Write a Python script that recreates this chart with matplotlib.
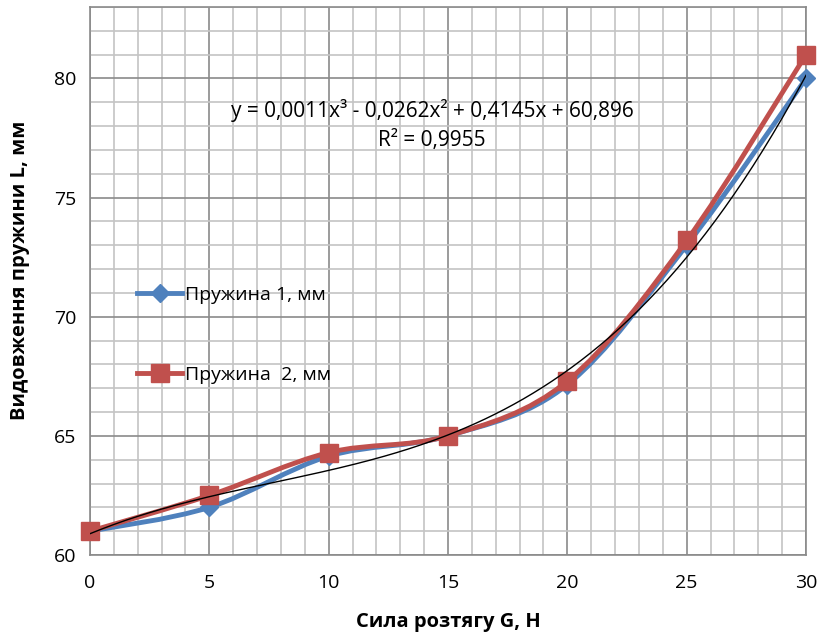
import matplotlib
matplotlib.use("Agg")
import matplotlib.pyplot as plt
import numpy as np
from matplotlib.path import Path
from matplotlib.patches import PathPatch
from matplotlib.lines import Line2D
from matplotlib.ticker import MultipleLocator

plt.rcParams['font.family'] = ['Open Sans', 'DejaVu Sans']

force = [0, 5, 10, 15, 20, 25, 30]
spring1 = [61.0, 62.0, 64.15, 65.0, 67.15, 73.0, 80.0]
spring2 = [61.0, 62.5, 64.3, 65.0, 67.3, 73.2, 81.0]
label1 = "Пружина 1, мм"
label2 = "Пружина  2, мм"
eq_text = "y = 0,0011x³ - 0,0262x² + 0,4145x + 60,896"
r2_text = "R² = 0,9955"
xlabel = "Сила розтягу G, Н"
ylabel = "Видовження пружини L, мм"

blue = "#4F81BD"
red = "#C0504D"

fig = plt.figure(figsize=(8.19, 6.35), dpi=100)
ax = fig.add_axes([90/819, 80/635, 716/819, 548/635])
ax.set_xlim(0, 30)
ax.set_ylim(60, 83)

ax.xaxis.set_major_locator(MultipleLocator(5))
ax.yaxis.set_major_locator(MultipleLocator(5))
ax.xaxis.set_minor_locator(MultipleLocator(1))
ax.yaxis.set_minor_locator(MultipleLocator(1))
ax.grid(which='minor', color='#c4c4c4', linewidth=1.2)
ax.grid(which='major', color='#8a8a8a', linewidth=1.2)
ax.set_axisbelow(True)
for s in ax.spines.values():
    s.set_color('#8a8a8a')
    s.set_linewidth(1.2)
ax.tick_params(which='both', length=0, labelsize=14, colors='black')
ax.tick_params(axis='x', pad=14)
ax.tick_params(axis='y', pad=10)


def smooth_path(xs, ys):
    pts = np.column_stack([xs, ys]).astype(float)
    n = len(pts)
    verts = [pts[0]]
    codes = [Path.MOVETO]
    for i in range(n - 1):
        p0 = pts[i - 1] if i > 0 else pts[i]
        p1 = pts[i]
        p2 = pts[i + 1]
        p3 = pts[i + 2] if i + 2 < n else pts[i + 1]
        c1 = p1 + (p2 - p0) / 6.0
        c2 = p2 - (p3 - p1) / 6.0
        verts += [c1, c2, p2]
        codes += [Path.CURVE4] * 3
    return Path(verts, codes)


for ys, col in [(spring1, blue), (spring2, red)]:
    patch = PathPatch(smooth_path(force, ys), facecolor='none', edgecolor=col,
                      linewidth=3.5, zorder=3, capstyle='round', joinstyle='round')
    ax.add_patch(patch)

ax.plot(force, spring1, linestyle='none', marker='D', markersize=9,
        color=blue, zorder=4, clip_on=False)
ax.plot(force, spring2, linestyle='none', marker='s', markersize=13,
        color=red, zorder=5, clip_on=False)

# cubic trend line fitted to spring 1 (as Excel does)
coef = np.polyfit(force, spring1, 3)
xt = np.linspace(0, 30, 300)
ax.plot(xt, np.polyval(coef, xt), color='black', linewidth=1.0, zorder=6)

ax.text(0.478, 0.812, eq_text, transform=ax.transAxes, ha='center', va='center',
        fontsize=15)
ax.text(0.478, 0.757, r2_text, transform=ax.transAxes, ha='center', va='center',
        fontsize=15)

h1 = Line2D([], [], color=blue, linewidth=3.5, marker='D', markersize=9)
h2 = Line2D([], [], color=red, linewidth=3.5, marker='s', markersize=13)
leg = ax.legend([h1, h2], [label1, label2], loc='upper left',
                bbox_to_anchor=(0.055, 0.505), frameon=False, fontsize=14,
                handlelength=2.3, handletextpad=0.15, labelspacing=3.2,
                borderaxespad=0)

ax.set_xlabel(xlabel, fontsize=14.5, fontweight='bold', labelpad=14)
ax.set_ylabel(ylabel, fontsize=14.5, fontweight='bold')
ax.yaxis.set_label_coords(-0.084, 0.52)

fig.savefig("out.png", dpi=100)
